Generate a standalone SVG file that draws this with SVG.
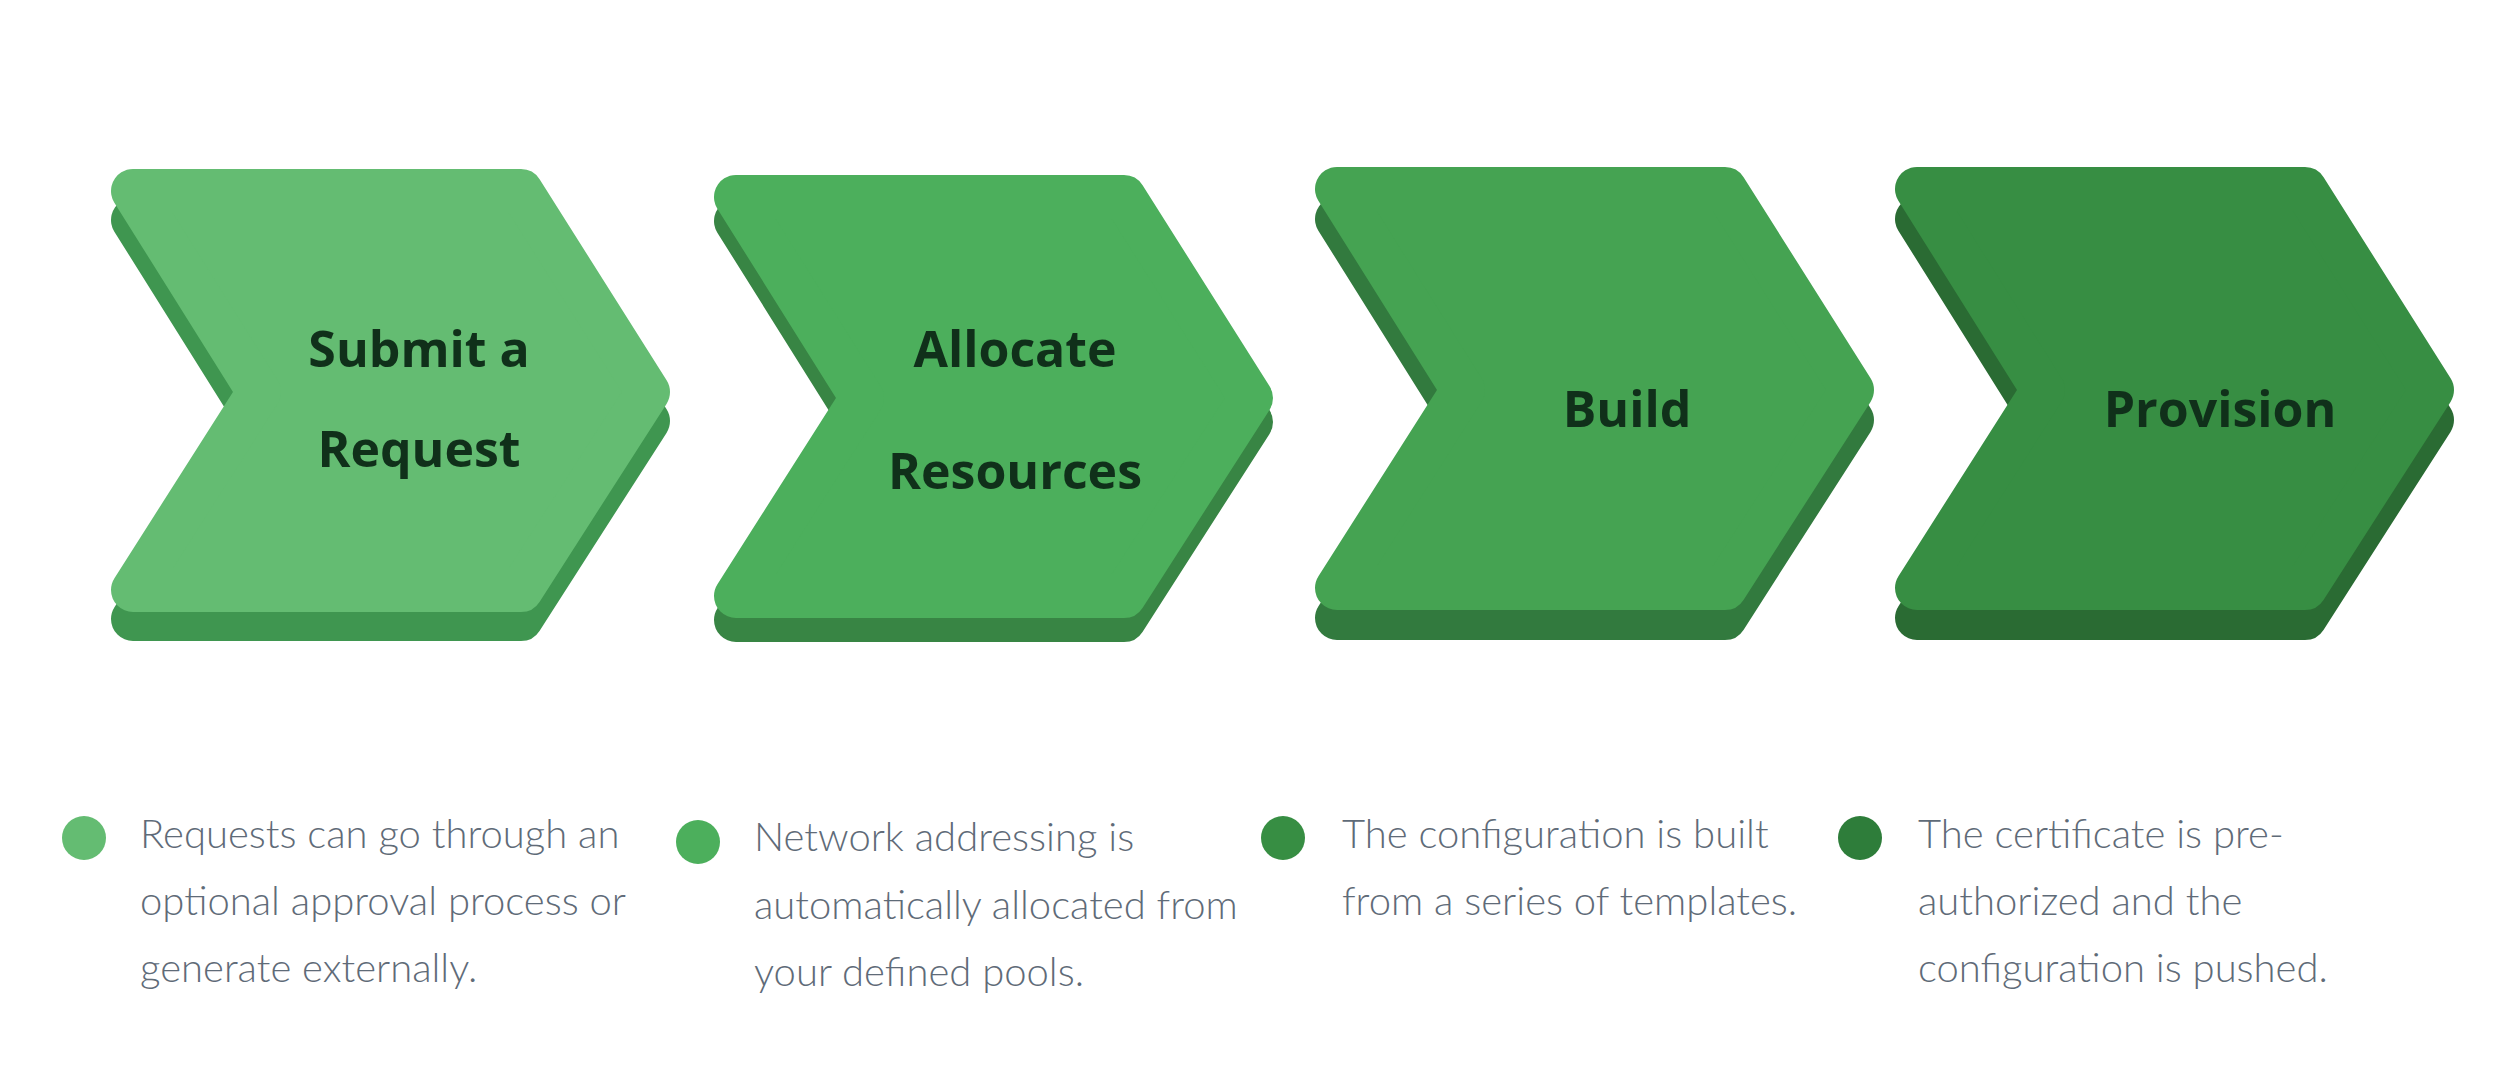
<svg xmlns="http://www.w3.org/2000/svg" width="2500" height="1071" viewBox="0 0 2500 1071">
<style>
.ch{stroke-width:44;stroke-linejoin:round}
.lbl{font-family:"Source Sans Pro","Open Sans",sans-serif;font-weight:700;font-size:50px;fill:#10301a;text-anchor:middle}
.txt{font-family:Lato,"Liberation Sans",sans-serif;font-weight:300;font-size:40px;fill:#5f6b78}
</style>
<defs>
<polygon id="chev" points="22,22 410,22 537,223 410,421 22,421 148,223"/>
</defs>
<g id="node1" transform="translate(111,169)">
<use href="#chev" y="29" class="ch" fill="#3f9650" stroke="#3f9650"/>
<use href="#chev" class="ch" fill="#64bc72" stroke="#64bc72"/>
<text class="lbl" x="308" y="198">Submit a</text>
<text class="lbl" x="308" y="298">Request</text>
</g>
<g id="node2" transform="translate(714,175)">
<use href="#chev" y="24" class="ch" fill="#388544" stroke="#388544"/>
<use href="#chev" class="ch" fill="#4caf5c" stroke="#4caf5c"/>
<text class="lbl" x="301" y="192">Allocate</text>
<text class="lbl" x="301" y="314">Resources</text>
</g>
<g id="node3" transform="translate(1315,167)">
<use href="#chev" y="30" class="ch" fill="#327a3e" stroke="#327a3e"/>
<use href="#chev" class="ch" fill="#45a352" stroke="#45a352"/>
<text class="lbl" x="312" y="260">Build</text>
</g>
<g id="node4" transform="translate(1895,167)">
<use href="#chev" y="30" class="ch" fill="#2a6b33" stroke="#2a6b33"/>
<use href="#chev" class="ch" fill="#378e43" stroke="#378e43"/>
<text class="lbl" x="325" y="260">Provision</text>
</g>
<g id="connectors"/>
<g id="desc1">
<circle cx="84" cy="838" r="22" fill="#64bc72"/>
<text class="txt" x="140" y="848">Requests can go through an</text>
<text class="txt" x="140" y="915">optional approval process or</text>
<text class="txt" x="140" y="982">generate externally.</text>
</g>
<g id="desc2">
<circle cx="698" cy="842" r="22" fill="#4caf5c"/>
<text class="txt" x="754" y="851">Network addressing is</text>
<text class="txt" x="754" y="919">automatically allocated from</text>
<text class="txt" x="754" y="986">your defined pools.</text>
</g>
<g id="desc3">
<circle cx="1283" cy="838" r="22" fill="#378e43"/>
<text class="txt" x="1342" y="848">The configuration is built</text>
<text class="txt" x="1342" y="915">from a series of templates.</text>
</g>
<g id="desc4">
<circle cx="1860" cy="838" r="22" fill="#2e7d3a"/>
<text class="txt" x="1918" y="848">The certificate is pre-</text>
<text class="txt" x="1918" y="915">authorized and the</text>
<text class="txt" x="1918" y="982">configuration is pushed.</text>
</g>
</svg>
